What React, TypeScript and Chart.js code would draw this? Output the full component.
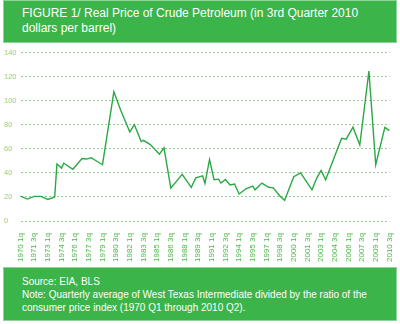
import React, { useEffect, useRef } from "react";
import { Chart, registerables } from "chart.js";

Chart.register(...registerables);

const startYear = 1970;
const endYear = 2010;
const lastQuarter = 3;

const quarterLabels: string[] = [];
for (let y = startYear; y <= endYear; y++) {
  for (let q = 1; q <= 4; q++) {
    if (y === endYear && q > lastQuarter) break;
    quarterLabels.push(`${y} ${q}q`);
  }
}

const tickEvery = 6;

const yTicks = [0, 20, 40, 60, 80, 100, 120, 140];

// Quarters (labels) where the drawn line bends, and the real price at each
const vertexQuarters = [
  "1970 1q", "1970 4q", "1971 3q", "1972 2q", "1973 1q", "1973 4q", "1974 1q", "1974 3q",
  "1974 4q", "1975 4q", "1976 4q", "1977 2q", "1977 4q", "1979 1q", "1980 2q", "1981 1q",
  "1982 1q", "1982 3q", "1983 2q", "1983 3q", "1984 2q", "1985 2q", "1985 4q", "1986 3q",
  "1987 4q", "1988 4q", "1989 2q", "1990 1q", "1990 2q", "1990 4q", "1991 2q", "1991 4q",
  "1992 1q", "1992 3q", "1993 1q", "1993 3q", "1994 1q", "1994 4q", "1995 3q", "1995 4q",
  "1996 3q", "1997 2q", "1997 4q", "1998 3q", "1999 1q", "2000 1q", "2000 4q", "2002 1q",
  "2002 3q", "2003 1q", "2003 3q", "2005 2q", "2005 4q", "2006 3q", "2007 2q", "2008 2q",
  "2009 1q", "2010 1q", "2010 3q",
];
const vertexPrices = [
  20.7, 18.3, 20.5, 20.5, 18, 20, 47.5, 44,
  48, 43, 52, 51.5, 52.6, 46.8, 107.3, 92,
  74, 80, 66, 67, 63.5, 55.5, 60.8, 27.3,
  38.8, 28, 36, 37.5, 31.3, 51, 34.3, 34.8,
  31.6, 34.5, 30, 30.8, 22.5, 26.8, 29, 26,
  31.6, 28.1, 27.6, 20.7, 17.3, 36.9, 40, 26,
  35.3, 42, 34.3, 68.8, 68, 78, 63.2, 124.5,
  46.8, 77.8, 75.1,
];

const GREEN = "#3bb44a";

export default function App() {
  const ref = useRef<HTMLCanvasElement>(null);

  useEffect(() => {
    document.body.style.margin = "0";
    const ctx = ref.current!;
    const chart = new Chart(ctx, {
      type: "line",
      data: {
        labels: quarterLabels,
        datasets: [
          {
            data: vertexQuarters.map((q, i) => ({ x: q, y: vertexPrices[i] })),
            borderColor: "#2aa843",
            borderWidth: 1.4,
            pointRadius: 0,
            tension: 0,
            fill: false,
          },
        ],
      },
      options: {
        animation: false,
        responsive: false,
        maintainAspectRatio: false,
        layout: { padding: { left: 4, right: 0, top: 2, bottom: 0 } },
        plugins: { legend: { display: false }, tooltip: { enabled: false } },
        scales: {
          x: {
            type: "category",
            grid: { display: false },
            border: { display: false },
            offset: false,
            ticks: {
              autoSkip: false,
              minRotation: 90,
              maxRotation: 90,
              padding: 4,
              color: "#4cb848",
              font: { family: "Liberation Sans, Arial, sans-serif", size: 8 },
              callback: (_v: any, i: number) => (i % tickEvery === 0 ? quarterLabels[i] : ""),
            },
          },
          y: {
            min: yTicks[0],
            max: yTicks[yTicks.length - 1],
            border: { display: false, dash: [2, 2] },
            grid: {
              color: "#8fcf8a",
              lineWidth: 1,
              drawTicks: false,
            },
            afterBuildTicks: (s: any) => {
              s.ticks = yTicks.map((v) => ({ value: v }));
            },
            ticks: {
              padding: 2,
              color: "#9fcf6a",
              crossAlign: "far",
              font: { family: "Liberation Sans, Arial, sans-serif", size: 7.5 },
            },
          },
        },
      },
    } as any);
    return () => chart.destroy();
  }, []);

  const boxStyle: React.CSSProperties = {
    position: "absolute",
    left: 3,
    width: 394,
    background: GREEN,
    color: "#ffffff",
    fontFamily: "Liberation Sans, Arial, sans-serif",
    boxSizing: "border-box",
    border: "1px solid #8fd39a",
  };

  return (
    <div style={{ position: "relative", width: 400, height: 324, background: "#fff", overflow: "hidden" }}>
      <div style={{ ...boxStyle, top: 0, height: 43, padding: "5px 0 0 18px", fontSize: 12, lineHeight: "15px" }}>
        FIGURE 1/ Real Price of Crude Petroleum (in 3rd Quarter 2010
        <br />
        dollars per barrel)
      </div>
      <canvas
        ref={ref}
        width={403}
        height={220}
        style={{ position: "absolute", left: 0, top: 46, width: 403, height: 220 }}
      />
      <div style={{ ...boxStyle, top: 267, height: 54, padding: "7px 0 0 18px", fontSize: 10, lineHeight: "13px" }}>
        Source: EIA, BLS
        <br />
        Note: Quarterly average of West Texas Intermediate divided by the ratio of the
        <br />
        consumer price index (1970 Q1 through 2010 Q2).
      </div>
    </div>
  );
}
